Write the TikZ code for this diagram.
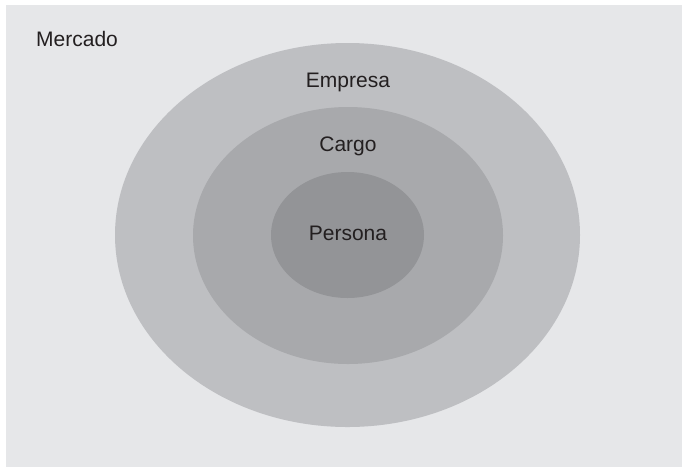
\documentclass[tikz,border=0pt]{standalone}
\usepackage{fontspec}
\setmainfont{Liberation Sans}
\definecolor{bgc}{HTML}{E6E7E9}
\definecolor{outc}{HTML}{BEBFC2}
\definecolor{midc}{HTML}{A8A9AC}
\definecolor{innc}{HTML}{939497}
\definecolor{txtc}{HTML}{231F20}
\begin{document}
\begin{tikzpicture}[x=1pt,y=-1pt,
  lbl/.style={font=\fontsize{21}{24}\selectfont, text=txtc, inner sep=0pt}]
\useasboundingbox (0,0) rectangle (682,467);
\fill[white] (0,0) rectangle (682,467);
\fill[bgc] (6,5) rectangle (682,467);
\fill[outc] (347.5,235) ellipse [x radius=232.5, y radius=192];
\fill[midc] (348,235.5) ellipse [x radius=155, y radius=128.5];
\fill[innc] (347.5,235) ellipse [x radius=76.5, y radius=63];
\node[lbl, anchor=base west] (mercado) at (36,46) {Mercado};
\node[lbl, anchor=base] (empresa) at (348,87) {Empresa};
\node[lbl, anchor=base] (cargo) at (348,151) {Cargo};
\node[lbl, anchor=base] (persona) at (348,240) {Persona};
\end{tikzpicture}
\end{document}
